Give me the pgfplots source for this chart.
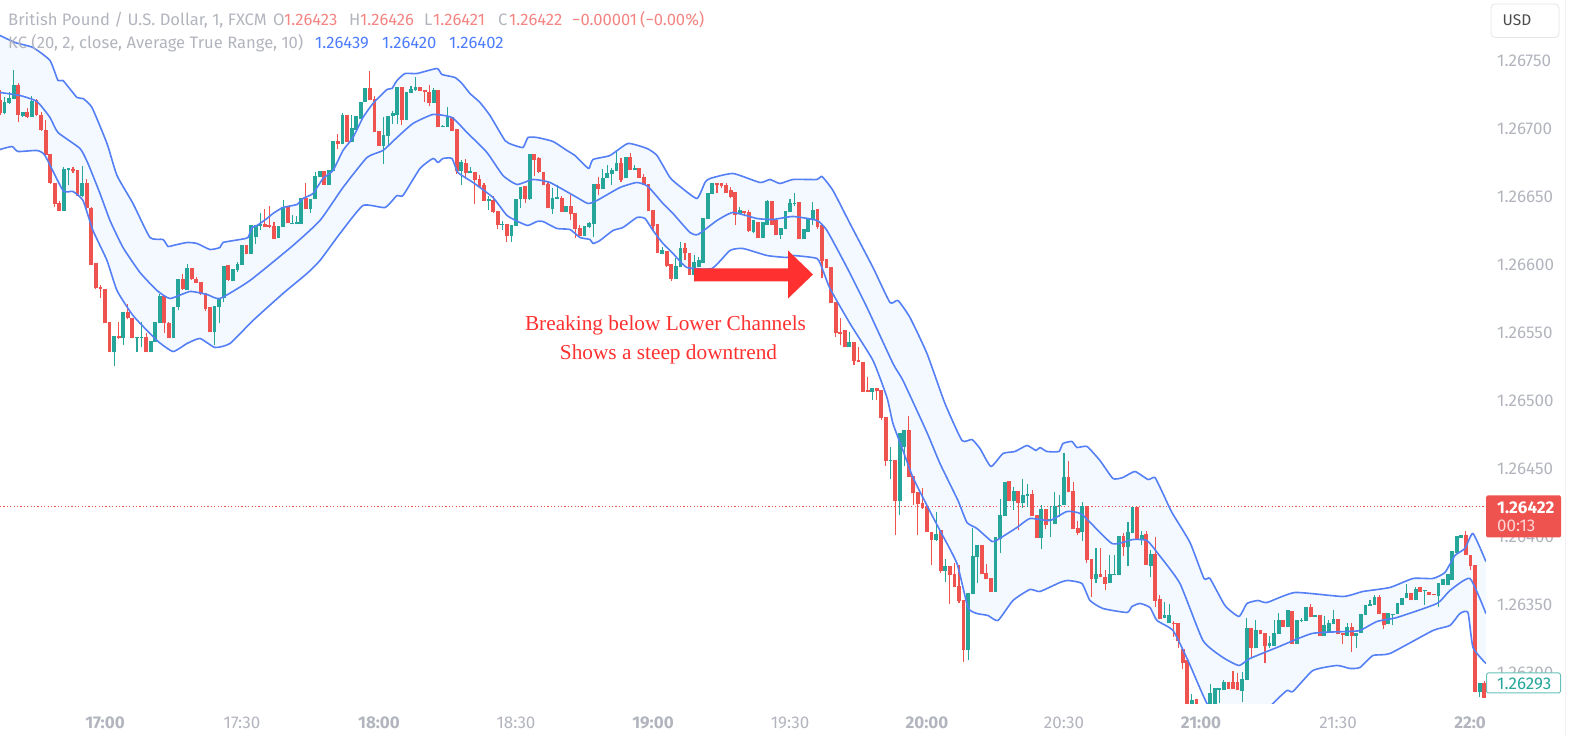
\documentclass[border=0pt]{standalone}
\usepackage{fontspec}
\setmainfont{Fira Sans}
\newfontfamily\serifann{Liberation Serif}
\usepackage{pgfplots}
\usepackage{pgfplotstable}
\usepgfplotslibrary{fillbetween}
\pgfplotsset{compat=1.18}
\definecolor{upc}{HTML}{26A69A}
\definecolor{dnc}{HTML}{EF5350}
\definecolor{kcl}{HTML}{5580F5}
\definecolor{kcf}{HTML}{F3F9FF}
\definecolor{axg}{HTML}{B2B5BE}
\definecolor{lred}{HTML}{F38583}
\definecolor{lblue}{HTML}{4D7CFF}
\definecolor{arrowr}{HTML}{FF3030}
% columns: minute after 17:00, then body top, body bottom, high, low, read as chart rows
\pgfplotstableread{
m top bot hi lo
-22 102 113 97 114
-21 98 103 92 104
-20 85 99 70 99
-18 112 116 112 117
-16 101 117 96 117
-9 169 211 167 211
-8 168 170 168 185
-5 183 196 166 197
2 336 352 336 366
4 312 338 312 345
7 337 338 337 352
8 337 338 322 347
10 341 352 341 352
11 322 342 322 342
12 296 323 294 323
15 307 338 307 338
16 279 307 279 310
18 268 290 264 290
24 306 332 306 345
25 298 307 298 323
26 266 298 266 302
28 269 281 269 281
29 264 270 262 272
30 245 265 245 265
32 225 254 225 254
33 225 237 225 244
34 224 226 213 230
38 226 238 226 238
39 207 227 200 227
41 223 224 215 224
42 222 224 216 224
43 198 224 198 224
45 199 209 199 213
46 176 199 172 199
47 171 177 171 177
49 170 185 170 185
50 141 171 141 171
52 115 144 113 144
54 128 142 115 142
55 116 130 116 130
56 102 119 102 119
57 88 102 88 102
61 135 146 117 164
62 116 136 116 146
63 113 116 111 124
64 87 115 87 124
66 92 120 92 120
67 89 93 86 93
68 87 90 77 91
72 90 103 88 103
74 126 127 125 127
75 117 127 107 127
78 162 171 160 185
80 171 173 167 173
84 199 201 196 210
87 224 225 221 230
89 225 236 225 242
90 199 226 199 226
91 187 199 187 208
93 154 199 154 200
98 198 209 188 214
99 197 199 185 199
101 206 212 206 212
105 226 236 226 236
106 223 227 222 228
107 184 224 184 237
109 178 189 169 189
110 173 178 165 178
111 170 174 168 185
112 163 171 152 171
114 157 178 157 178
116 168 170 165 170
122 250 254 247 254
125 266 279 258 279
126 248 267 242 267
129 262 275 255 278
130 260 267 257 267
131 218 263 218 263
132 193 219 193 219
133 183 194 183 194
139 210 214 207 214
142 220 232 220 233
144 222 238 222 238
145 201 225 200 225
148 228 235 228 239
149 211 229 211 229
150 203 212 199 212
151 203 204 193 206
153 229 239 229 239
154 218 232 218 232
155 210 220 202 225
163 342 347 332 347
168 388 392 388 400
172 460 461 447 479
174 433 501 433 515
175 430 447 430 466
182 534 540 512 541
184 566 571 559 582
189 593 650 593 660
190 556 594 528 594
191 545 557 545 583
195 537 592 537 592
196 515 539 499 553
197 482 516 482 516
199 491 501 487 510
201 495 503 479 508
202 494 496 484 507
205 509 538 505 549
207 519 521 506 537
208 506 524 492 524
209 505 506 495 517
210 477 505 453 505
214 506 532 502 541
217 574 579 548 583
220 574 583 555 583
221 574 575 555 575
222 536 575 536 575
224 532 547 522 566
225 507 533 507 533
227 535 540 531 545
229 554 566 550 577
232 615 618 602 618
233 615 623 604 623
238 700 710 694 710
242 693 710 684 710
243 688 710 688 710
244 688 690 688 703
245 682 690 680 690
249 679 691 672 702
250 628 680 618 680
252 630 648 620 648
255 643 646 636 648
256 633 646 620 646
257 620 634 613 634
259 610 627 610 627
261 620 644 620 644
262 620 621 618 622
263 607 621 607 621
265 615 617 615 617
267 625 636 616 636
268 623 632 620 632
269 619 624 610 624
272 627 636 623 636
274 633 636 633 648
275 614 633 614 633
276 605 615 605 615
277 604 606 600 606
278 597 605 595 605
281 613 624 613 624
282 614 615 614 625
283 603 614 603 614
284 598 605 598 605
285 593 598 584 598
287 589 600 587 600
289 590 591 590 605
292 583 596 583 607
293 579 585 579 585
294 574 585 574 585
295 551 580 551 580
296 536 553 536 553
297 535 538 535 538
301 683 692 683 697
}\upt
\pgfplotstableread{
m top bot hi lo
-23 100 113 90 115
-19 85 115 83 122
-17 112 117 108 118
-15 100 115 99 116
-14 115 130 112 131
-13 130 155 120 155
-12 154 183 154 184
-11 183 204 183 207
-10 203 211 201 211
-7 169 171 167 173
-6 170 196 170 196
-4 183 208 179 209
-3 208 265 207 265
-2 263 288 263 289
-1 287 289 285 298
0 289 323 289 323
1 322 352 322 352
3 336 338 322 339
5 312 318 304 319
6 318 338 318 338
9 337 352 333 352
13 296 323 296 333
14 323 338 322 338
17 279 289 274 290
19 268 279 268 280
20 279 283 277 283
21 282 294 282 295
22 293 309 293 311
23 307 332 307 332
27 265 280 265 281
31 245 254 245 254
35 224 227 209 227
36 225 227 206 228
37 226 239 222 239
40 207 223 207 223
44 198 209 183 209
48 171 185 171 185
51 141 144 134 149
53 115 142 115 142
58 88 100 71 100
59 99 132 96 132
60 131 146 131 146
65 87 120 87 125
69 87 91 87 91
70 90 92 90 102
71 92 103 85 106
73 90 127 90 127
76 117 131 117 131
77 129 171 129 174
79 163 173 159 177
81 172 180 172 204
82 179 187 175 188
83 185 201 183 201
85 200 212 196 213
86 211 225 211 229
88 224 236 224 242
92 186 199 186 203
94 154 160 154 176
95 158 172 157 173
96 172 185 172 185
97 184 208 182 208
100 198 212 196 212
102 206 214 195 220
103 213 229 213 238
104 228 236 225 236
108 184 189 177 195
113 163 180 158 182
115 157 170 153 170
117 168 178 168 178
118 177 185 174 185
119 184 211 184 211
120 210 226 210 230
121 224 253 224 253
123 251 266 251 267
124 264 279 264 281
127 248 253 243 260
128 253 275 253 275
134 183 185 183 193
135 183 186 183 188
136 185 193 183 193
137 190 197 187 198
138 192 215 192 225
140 211 213 211 216
141 212 231 210 232
143 222 238 222 238
146 201 225 201 225
147 220 235 220 235
152 202 239 202 239
156 209 227 209 229
157 225 261 225 278
158 259 268 259 268
159 267 303 267 303
160 302 333 302 337
161 332 334 318 345
162 330 347 330 347
164 342 361 342 365
165 360 362 347 362
166 362 392 362 392
167 390 392 377 392
169 388 391 388 400
170 390 418 390 420
171 417 461 417 466
173 460 501 460 535
176 430 477 416 477
177 476 493 476 505
178 492 504 492 535
179 503 508 488 509
180 506 532 506 532
181 532 540 532 565
183 530 571 530 573
185 566 575 566 604
186 574 587 563 587
187 586 601 565 603
188 600 650 600 662
192 545 574 545 574
193 573 579 564 579
194 578 592 578 592
198 481 501 481 501
200 491 503 491 530
203 494 516 490 516
204 515 538 515 538
206 509 525 509 529
211 477 492 461 492
212 491 529 482 529
213 528 533 521 535
215 506 560 506 563
216 559 579 559 597
218 574 577 548 577
219 577 584 570 590
223 536 547 533 556
226 507 540 507 540
228 534 565 531 565
230 554 601 537 607
231 599 619 595 619
234 623 624 621 637
235 623 641 623 648
236 649 663 649 669
237 660 710 660 710
239 699 710 699 710
246 682 689 682 689
247 682 689 671 689
248 682 690 673 690
251 628 648 628 658
253 630 634 630 634
254 633 646 633 663
258 620 627 620 627
260 611 644 611 644
264 607 617 604 617
266 615 636 615 636
270 619 634 619 634
271 633 635 633 644
273 627 636 623 652
279 597 614 595 614
280 613 625 613 629
286 593 600 593 600
288 587 592 587 592
290 592 595 592 595
291 594 595 594 595
298 535 555 531 555
299 555 566 555 570
300 565 692 565 692
302 683 698 681 698
}\dnt
% Keltner channel bands, read as chart column and row
\pgfplotstableread{
X Y
0 35
15 42
33 47
50 60
58 80
63 80
77 97
83 98
92 107
107 143
117 175
133 203
150 237
163 239
168 246
173 245
187 242
197 243
210 249
220 247
223 242
240 239
248 237
252 227
257 225
267 218
273 213
283 207
297 204
303 198
313 193
323 178
333 170
343 150
353 137
363 117
373 103
387 89
392 88
397 80
405 73
417 73
437 68
442 74
455 77
462 83
470 93
480 102
490 115
505 140
512 144
523 147
528 137
537 137
553 141
567 150
575 155
583 163
589 168
593 159
610 155
628 143
647 148
657 155
670 177
680 186
697 198
705 182
710 178
733 173
760 182
770 179
780 183
793 179
817 179
822 176
833 190
850 223
873 267
890 302
898 300
910 317
927 353
945 403
962 440
972 439
980 448
991 466
1003 453
1015 451
1027 445
1036 450
1040 447
1047 451
1059 451
1063 443
1072 441
1077 447
1087 446
1100 460
1113 478
1123 477
1135 471
1148 479
1155 477
1163 493
1172 512
1190 542
1204 578
1210 578
1225 605
1239 616
1247 603
1258 600
1267 602
1295 592
1343 596
1363 591
1390 587
1413 578
1433 578
1445 572
1455 555
1465 548
1473 533
1486 561
}\kcu
\pgfplotstableread{
X Y
0 92
20 95
37 101
50 117
58 132
80 148
88 163
100 193
110 220
123 247
140 272
157 290
170 298
190 291
207 294
220 298
250 280
293 245
320 220
343 187
367 157
383 150
397 137
413 123
433 114
452 117
467 132
487 152
503 175
517 184
533 179
550 182
577 197
588 203
597 200
620 187
637 182
648 186
663 203
673 213
690 232
698 234
717 220
733 212
757 218
773 219
793 216
817 220
827 230
847 267
867 307
893 363
903 380
927 432
940 463
958 500
967 522
977 528
992 541
998 539
1017 527
1030 518
1050 520
1067 511
1082 514
1112 543
1133 539
1147 540
1158 553
1180 583
1203 640
1223 657
1239 665
1250 658
1277 647
1312 633
1347 631
1360 630
1377 621
1397 617
1437 603
1450 590
1470 578
1486 613
}\kcm
\pgfplotstableread{
X Y
0 149
12 146
18 151
37 150
45 155
63 190
73 191
83 200
93 230
107 260
117 290
133 315
157 340
173 351
187 343
200 338
215 347
230 343
253 320
283 293
307 273
320 260
340 233
363 205
385 207
397 195
403 195
420 168
433 158
438 162
443 158
452 158
458 172
473 182
493 197
507 215
520 222
528 225
537 221
543 221
557 228
570 229
580 237
590 239
593 243
600 240
613 230
623 227
637 217
645 218
653 230
663 243
673 253
687 267
712 268
730 250
743 248
767 255
787 257
793 255
817 258
823 270
830 288
850 323
873 360
887 397
893 423
903 450
913 477
928 507
940 530
957 563
968 607
977 613
988 615
998 620
1013 600
1030 589
1040 591
1060 582
1068 580
1082 583
1090 600
1103 608
1127 612
1132 606
1140 603
1150 607
1157 620
1173 630
1188 660
1207 703
1225 724
1250 730
1273 703
1287 690
1293 691
1313 670
1337 665
1350 668
1360 667
1373 655
1390 653
1433 630
1450 625
1460 613
1468 612
1473 647
1486 663
}\kcl
\newcommand{\prc}[1]{750-(\thisrow{#1}-60)/1.36}
\newcommand{\colx}{(\thisrow{X}-105)/4.567}
\begin{document}
\begin{tikzpicture}
\begin{axis}[
  at={(0pt,0pt)}, anchor=south west,
  scale only axis, width=1486pt, height=703pt,
  xmin=-22.99, xmax=302.4, ymin=277.2, ymax=794.12,
  axis line style={draw=none}, tick style={draw=none},
  yticklabel pos=right,
  ytick={300,350,400,450,500,550,600,650,700,750},
  yticklabels={1.26300,1.26350,1.26400,1.26450,1.26500,1.26550,1.26600,1.26650,1.26700,1.26750},
  xtick={0,30,60,90,120,150,180,210,240,270,300},
  xticklabels={\bfseries 17:00,17:30,\bfseries 18:00,18:30,\bfseries 19:00,19:30,\bfseries 20:00,20:30,\bfseries 21:00,21:30,\bfseries 22:0\phantom{0}},
  yticklabel style={anchor=west,inner sep=0pt,xshift=11pt,font=\fontsize{17}{19}\selectfont,text=axg},
  xticklabel style={anchor=center,inner sep=0pt,yshift=-19pt,font=\fontsize{17}{19}\selectfont,text=axg},
]
\addplot[name path=U,draw=none,forget plot] table[x expr=\colx,y expr=\prc{Y}] {\kcu};
\addplot[name path=L,draw=none,forget plot] table[x expr=\colx,y expr=\prc{Y}] {\kcl};
\addplot[kcf,forget plot] fill between[of=U and L];
\addplot[dnc,line width=0.9pt,dash pattern=on 1.2pt off 2.2pt,forget plot] coordinates {(-22.99,422)(302.4,422)};
% wicks
\addplot[draw=none,forget plot,error bars/.cd,y dir=plus,y explicit,error mark=none,error bar style={draw=upc,solid,line width=1.1pt}]
  table[x=m,y expr=\prc{lo},y error plus expr=(\thisrow{lo}-\thisrow{hi})/1.36] {\upt};
\addplot[draw=none,forget plot,error bars/.cd,y dir=plus,y explicit,error mark=none,error bar style={draw=dnc,solid,line width=1.1pt}]
  table[x=m,y expr=\prc{lo},y error plus expr=(\thisrow{lo}-\thisrow{hi})/1.36] {\dnt};
% bodies
\addplot[draw=none,forget plot,error bars/.cd,y dir=plus,y explicit,error mark=none,error bar style={draw=upc,solid,line width=3.8pt}]
  table[x=m,y expr=\prc{bot},y error plus expr=(\thisrow{bot}-\thisrow{top})/1.36] {\upt};
\addplot[draw=none,forget plot,error bars/.cd,y dir=plus,y explicit,error mark=none,error bar style={draw=dnc,solid,line width=3.8pt}]
  table[x=m,y expr=\prc{bot},y error plus expr=(\thisrow{bot}-\thisrow{top})/1.36] {\dnt};
% bands
\addplot[kcl,line width=1.6pt,smooth,tension=0.3,line join=round,forget plot] table[x expr=\colx,y expr=\prc{Y}] {\kcu};
\addplot[kcl,line width=1.6pt,smooth,tension=0.3,line join=round,forget plot] table[x expr=\colx,y expr=\prc{Y}] {\kcm};
\addplot[kcl,line width=1.6pt,smooth,tension=0.3,line join=round,forget plot] table[x expr=\colx,y expr=\prc{Y}] {\kcl};
\end{axis}
\begin{scope}[shift={(0pt,703pt)},x=1pt,y=-1pt]
\path (0,0) rectangle (1569,737);
% right margin rule
\draw[draw=black!5,line width=1pt] (1565,0) -- (1565,737);
% arrow
\fill[arrowr] (694,268) -- (788,268) -- (788,250) -- (813,274) -- (788,298) -- (788,281) -- (694,281) -- cycle;
% annotation
\node[anchor=center,text=arrowr,font=\serifann\fontsize{21.3}{24}\selectfont] at (665.5,325) {Breaking below Lower Channels};
\node[anchor=center,text=arrowr,font=\serifann\fontsize{21.3}{24}\selectfont] at (668.5,354) {Shows a steep downtrend};
% header
\tikzset{hd/.style={anchor=base west,inner sep=0pt,font=\fontsize{16.6}{19}\selectfont}}
\node[hd,text=axg] at (8,25) {British Pound / U.S. Dollar, 1, FXCM};
\node[hd,text=axg] at (273,25) {O}; \node[hd,text=lred] at (284,25) {1.26423};
\node[hd,text=axg] at (349,25) {H}; \node[hd,text=lred] at (360,25) {1.26426};
\node[hd,text=axg] at (424,25) {L}; \node[hd,text=lred] at (433,25) {1.26421};
\node[hd,text=axg] at (498,25) {C}; \node[hd,text=lred] at (509,25) {1.26422};
\node[hd,text=lred] at (572,25) {−0.00001};
\node[hd,text=lred] at (640,25) {(−0.00\%)};
\node[hd,text=axg] at (8,48) {KC (20, 2, close, Average True Range, 10)};
\node[hd,text=lblue] at (315,48) {1.26439};
\node[hd,text=lblue] at (382,48) {1.26420};
\node[hd,text=lblue] at (449,48) {1.26402};
% USD button
\draw[draw=black!10,fill=white,rounded corners=4pt,line width=0.8pt] (1491,3.5) rectangle (1559,37);
\node[anchor=center,text=black!70,font=\fontsize{15.5}{17}\selectfont] at (1517,20) {USD};
% price tags
\fill[dnc,rounded corners=1.5pt] (1486,495) rectangle (1561,537);
\node[anchor=west,inner sep=0pt,text=white,font=\fontsize{17}{19}\selectfont\bfseries] at (1497,507) {1.26422};
\node[anchor=west,inner sep=0pt,text=white!75!dnc,font=\fontsize{17}{19}\selectfont] at (1497,525) {00:13};
\draw[draw=upc!70,fill=white,rounded corners=1.5pt,line width=1pt] (1486.5,672.5) rectangle (1560.5,692.5);
\node[anchor=west,inner sep=0pt,text=upc,font=\fontsize{17}{19}\selectfont] at (1497,683) {1.26293};
\end{scope}
\end{tikzpicture}
\end{document}
